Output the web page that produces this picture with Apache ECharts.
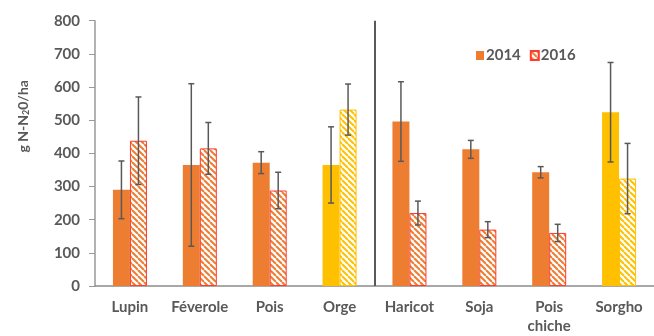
<!DOCTYPE html>
<html>
<head>
<meta charset="utf-8">
<script src="https://cdn.jsdelivr.net/npm/echarts@6/dist/echarts.min.js"></script>
<style>
  html, body { margin: 0; padding: 0; background: #fff; }
  #chart { width: 654px; height: 336px; }
</style>
</head>
<body>
<div id="chart"></div>
<script>
// categories and values (g N-N2O/ha)
const categories = ["Lupin", "Féverole", "Pois", "Orge", "Haricot", "Soja", "Pois\nchiche", "Sorgho"];
const cereales = ["Orge", "Sorgho"];
const val2014 = [290, 365, 372, 365, 496, 412, 343, 524];
const err2014 = [87, 245, 33, 115, 120, 27, 17, 150];
const val2016 = [438, 415, 288, 532, 220, 170, 160, 324];
const err2016 = [132, 78, 55, 77, 36, 24, 26, 106];
const yTicks = [0, 100, 200, 300, 400, 500, 600, 700, 800];
// divider between the two groups: before "Haricot"
const dividerBefore = 4;

const ORANGE = "#ED7D31";
const YELLOW = "#FFC000";
const RED = "#FF3B30";
const GREY = "#595959";

// hatch pattern "\" on white
function stripes(color) {
  const s = 6;
  const c = document.createElement("canvas");
  c.width = s; c.height = s;
  const ctx = c.getContext("2d");
  ctx.fillStyle = "#fff";
  ctx.fillRect(0, 0, s, s);
  ctx.strokeStyle = color;
  ctx.lineWidth = 2;
  [[-s, 0, 0, s], [0, 0, s, s], [s, 0, 2 * s, s]].forEach(([a, b, cc, d]) => {
    ctx.beginPath();
    ctx.moveTo(a, b);
    ctx.lineTo(cc, d);
    ctx.stroke();
  });
  return { image: c, repeat: "repeat" };
}

const isCereal = (i) => cereales.indexOf(categories[i]) >= 0;

const data2014 = val2014.map((v, i) => ({
  value: v,
  itemStyle: { color: isCereal(i) ? YELLOW : ORANGE },
}));
const data2016 = val2016.map((v, i) => ({
  value: v,
  itemStyle: isCereal(i)
    ? { color: stripes(YELLOW), borderColor: YELLOW }
    : { color: stripes(ORANGE), borderColor: RED },
}));

const BAR_W = 17;

function errorSeries(vals, errs, offset) {
  return {
    type: "custom",
    silent: true,
    z: 5,
    encode: { x: 0, y: [1, 2] },
    data: vals.map((v, i) => [i, v - errs[i], v + errs[i]]),
    renderItem(params, api) {
      const idx = api.value(0);
      const top = api.coord([idx, api.value(2)]);
      const bot = api.coord([idx, api.value(1)]);
      const x = top[0] + offset;
      const st = { stroke: GREY, lineWidth: 1.5 };
      const cap = 3;
      return {
        type: "group",
        children: [
          { type: "line", shape: { x1: x, y1: top[1], x2: x, y2: bot[1] }, style: st },
          { type: "line", shape: { x1: x - cap, y1: top[1], x2: x + cap, y2: top[1] }, style: st },
          { type: "line", shape: { x1: x - cap, y1: bot[1], x2: x + cap, y2: bot[1] }, style: st },
        ],
      };
    },
  };
}

const chart = echarts.init(document.getElementById("chart"));
const fontFamily = "Lato, 'Open Sans', sans-serif";

chart.setOption({
  animation: false,
  textStyle: { fontFamily: fontFamily },
  grid: { left: 95, right: -6, top: 20.7, bottom: 49.3 },
  legend: {
    data: ["2014", "2016"],
    left: 471,
    top: 43,
    itemWidth: 8,
    itemHeight: 9,
    itemGap: 9,
    icon: "rect",
    textStyle: { color: GREY, fontSize: 15, fontWeight: "bold", fontFamily: fontFamily, padding: [0, 0, 0, -3] },
  },
  xAxis: [
    {
      type: "category",
      data: categories,
      axisLine: { lineStyle: { color: "#8c8c8c", width: 1.5 } },
      axisTick: { show: false },
      axisLabel: {
        interval: 0,
        margin: 12,
        color: GREY,
        fontSize: 15,
        fontWeight: "bold",
        lineHeight: 19,
      },
      splitLine: { show: false },
    },
    {
      // hidden helper axis to place the group divider between categories
      type: "value",
      min: 0,
      max: categories.length,
      show: false,
    },
  ],
  yAxis: {
    type: "value",
    min: yTicks[0],
    max: yTicks[yTicks.length - 1],
    interval: 100,
    name: "g N-N{sub|2}0/ha",
    nameLocation: "middle",
    nameGap: 64,
    nameTextStyle: {
      color: GREY,
      fontSize: 14,
      fontWeight: "bold",
      padding: [0, 0, 0, 74],
      rich: { sub: { fontSize: 9, fontWeight: "bold", color: GREY, verticalAlign: "bottom", padding: [7, 0, 0, 0] } },
    },
    axisLine: { show: true, lineStyle: { color: "#999", width: 1.5 } },
    axisTick: { show: true, length: 6, lineStyle: { color: "#999" } },
    axisLabel: { color: GREY, fontSize: 15, fontWeight: "bold", margin: 15 },
    splitLine: { show: false },
  },
  series: [
    {
      name: "2014",
      type: "bar",
      barWidth: BAR_W,
      barGap: "0%",
      itemStyle: { color: ORANGE },
      data: data2014,
    },
    {
      name: "2016",
      type: "bar",
      barWidth: BAR_W,
      barGap: "0%",
      itemStyle: { color: stripes(ORANGE), borderColor: RED, borderWidth: 1 },
      data: data2016,
    },
    errorSeries(val2014, err2014, -BAR_W / 2),
    errorSeries(val2016, err2016, BAR_W / 2),
    {
      type: "line",
      xAxisIndex: 1,
      data: [],
      silent: true,
      markLine: {
        symbol: "none",
        silent: true,
        label: { show: false },
        lineStyle: { color: GREY, width: 2, type: "solid" },
        data: [{ xAxis: dividerBefore }],
      },
    },
  ],
});
</script>
</body>
</html>
